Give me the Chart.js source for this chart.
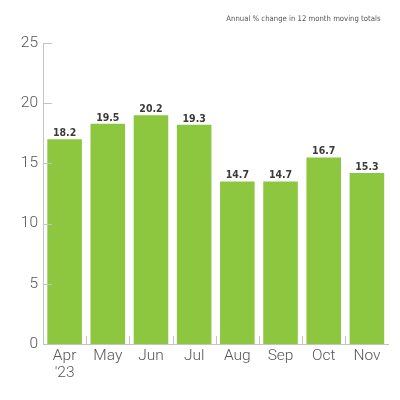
<!DOCTYPE html>
<html>
<head>
<meta charset="utf-8">
<script src="https://cdn.jsdelivr.net/npm/chart.js@4/dist/chart.umd.min.js"></script>
<style>
html,body{margin:0;padding:0;background:#fff;}
#wrap{width:400px;height:400px;}
</style>
</head>
<body>
<div id="wrap"><canvas id="c" width="400" height="400"></canvas></div>
<script>
const categories = [["Apr", "'23"], "May", "Jun", "Jul", "Aug", "Sep", "Oct", "Nov"];
const barValues = [17.0, 18.3, 19.0, 18.2, 13.5, 13.5, 15.5, 14.2];
const valueLabels = ["18.2", "19.5", "20.2", "19.3", "14.7", "14.7", "16.7", "15.3"];
const yTicks = [0, 5, 10, 15, 20, 25];
const subtitle = "Annual % change in 12 month moving totals";

const axisColor = "#c4c4c4";

const decor = {
  id: "decor",
  afterDatasetsDraw(chart) {
    const ctx = chart.ctx;
    const area = chart.chartArea;
    const x = chart.scales.x, y = chart.scales.y;
    ctx.save();
    // inward tick marks
    ctx.strokeStyle = axisColor;
    ctx.lineWidth = 1;
    yTicks.forEach(v => {
      const py = Math.round(y.getPixelForValue(v)) + 0.5;
      ctx.beginPath(); ctx.moveTo(area.left, py); ctx.lineTo(area.left + 9, py); ctx.stroke();
    });
    for (let i = 1; i < categories.length; i++) {
      const px = Math.round((x.getPixelForValue(i - 1) + x.getPixelForValue(i)) / 2) + 0.5;
      ctx.beginPath(); ctx.moveTo(px, area.bottom); ctx.lineTo(px, area.bottom - 8); ctx.stroke();
    }
    // value labels
    const meta = chart.getDatasetMeta(0);
    ctx.fillStyle = "#3a3a3a";
    ctx.font = "bold 10.5px 'Liberation Sans Narrow', 'DejaVu Sans Condensed', sans-serif";
    ctx.textAlign = "center";
    ctx.textBaseline = "alphabetic";
    meta.data.forEach((bar, i) => {
      ctx.fillText(valueLabels[i], bar.x, bar.y - 3);
    });
    // subtitle
    ctx.fillStyle = "#555";
    ctx.font = "7.7px 'Liberation Sans Narrow', 'DejaVu Sans Condensed', sans-serif";
    ctx.textAlign = "right";
    ctx.fillText(subtitle, area.right - 8, 21);
    ctx.restore();
  }
};

new Chart(document.getElementById("c"), {
  type: "bar",
  data: {
    labels: categories,
    datasets: [{
      data: barValues,
      backgroundColor: "#8dc63f",
      borderWidth: 0,
      categoryPercentage: 1.0,
      barPercentage: 0.8
    }]
  },
  options: {
    responsive: false,
    animation: false,
    devicePixelRatio: 1,
    layout: { padding: { top: 43, right: 11.5, left: 0, bottom: 0 } },
    plugins: { legend: { display: false }, tooltip: { enabled: false }, title: { display: false } },
    scales: {
      x: {
        grid: { display: false, drawTicks: false },
        border: { display: true, color: axisColor, width: 1 },
        ticks: {
          color: "#555",
          padding: 4,
          font: { family: "Roboto", weight: 300, size: 15.5, lineHeight: 1.1 },
          maxRotation: 0, autoSkip: false
        },
        afterFit(s) { s.height = 56; }
      },
      y: {
        min: 0, max: 25,
        grid: { display: false, drawTicks: false },
        border: { display: true, color: axisColor, width: 1 },
        ticks: {
          stepSize: 5,
          color: "#555",
          padding: 5,
          font: { family: "Roboto", weight: 300, size: 15.5 }
        },
        afterFit(s) { s.width = 43; }
      }
    }
  },
  plugins: [decor]
});
</script>
</body>
</html>
